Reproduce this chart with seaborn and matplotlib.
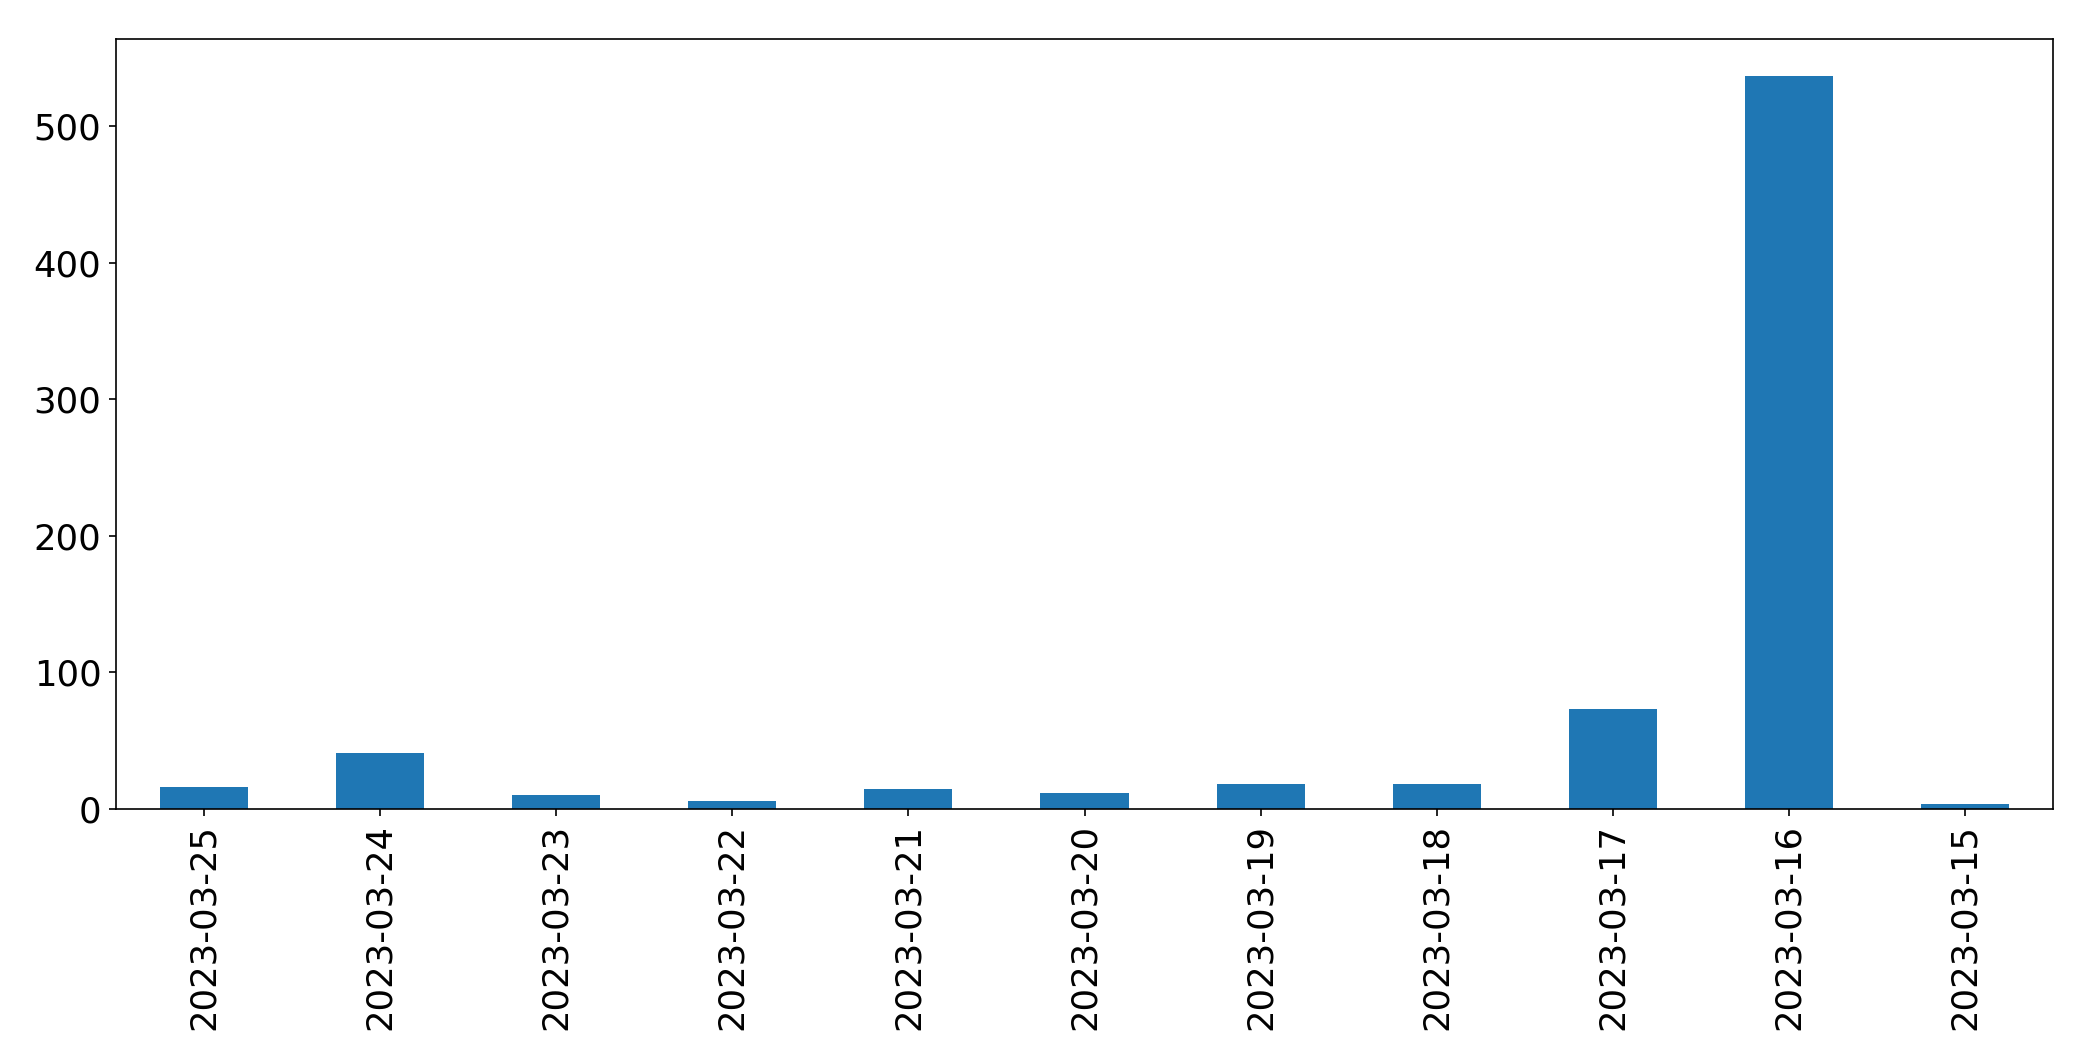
import numpy as np
import pandas as pd
import seaborn as sns
import matplotlib
matplotlib.use('Agg')
import matplotlib.pyplot as plt

dates = ['2023-03-25', '2023-03-24', '2023-03-23', '2023-03-22', '2023-03-21', '2023-03-20',
         '2023-03-19', '2023-03-18', '2023-03-17', '2023-03-16', '2023-03-15']
counts = [16, 41, 10, 6, 15, 12, 18, 18, 73, 537, 4]

data = pd.DataFrame({'date': dates, 'count': counts})

fig = plt.figure(figsize=(2093 / 150, 1061 / 150), dpi=150)
ax = fig.add_axes([116 / 2093, 1 - 809 / 1061, (2053 - 116) / 2093, (809 - 39) / 1061])

sns.barplot(data=data, x='date', y='count', order=dates, width=0.5, color='#1f77b4',
            saturation=1, ax=ax)

ax.set_xlim(-0.5, len(dates) - 0.5)
ax.set_ylim(0, max(counts) * 1.05)
ax.set_xlabel('')
ax.set_ylabel('')
for s in ax.spines.values():
    s.set_color('black')
ax.tick_params(axis='both', labelsize=17)
plt.setp(ax.get_xticklabels(), rotation=90)

fig.savefig('out.png', dpi=150)
